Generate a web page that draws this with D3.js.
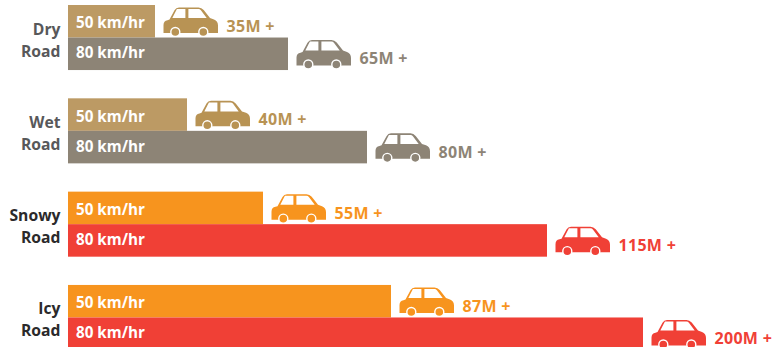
<!DOCTYPE html>
<html>
<head>
<meta charset="utf-8">
<script src="https://cdn.jsdelivr.net/npm/d3@7"></script>
<style>
html,body{margin:0;padding:0;background:#fff;}
svg{display:block;font-family:"Open Sans",sans-serif;font-weight:700;}
</style>
</head>
<body>
<svg id="chart" width="779" height="347"></svg>
<script>
const roads = ["Dry", "Wet", "Snowy", "Icy"];
const speeds = ["50 km/hr", "80 km/hr"];
const distances50 = [35, 40, 55, 87];
const distances80 = [65, 80, 115, 200];
const slowColors = ["#bc9a64", "#bc9a64", "#f7941e", "#f7941e"];
const fastColors = ["#8d8476", "#8d8476", "#f04036", "#f04036"];
const carSlowColors = ["#b89354", "#b89354", "#f7941e", "#f7941e"];
const roadLabelColors = ["#58585a", "#58585a", "#2b2a2b", "#2b2a2b"];

// The bars are illustrative, not proportional: length follows a stepped
// distance scale rather than a single straight one.
const distanceStops = [0, 35, 40, 55, 65, 80, 87, 115, 200];
const lengthStops = [0, 87, 119, 195, 220, 299, 323, 479, 575];

const svg = d3.select("#chart");
const margin = {left: 68, top: 5};
const x = d3.scaleLinear().domain(distanceStops).range(lengthStops.map(d => d + margin.left));
const yRoad = d3.scaleBand().domain(roads).range([margin.top, 350]).paddingInner(0.303).paddingOuter(0);
const ySpeed = d3.scaleBand().domain(speeds).range([0, yRoad.bandwidth()]);

const CAR_BODY = "M0,25.5 L0,17.5 Q0,13.5 4,12.7 L6,12 L11,2.8 Q12.5,0 15.5,0 L35,0 Q38,0 40.2,2.6 L46.5,10.6 L50.5,12 Q54.5,13.4 54.5,18 L54.5,25.5 Z";
const CAR_WINDOWS = "M13.4,1.6 L21.9,1.6 L21.9,10.6 L8.8,10.6 Z M24.9,1.6 L35,1.6 Q36.4,1.6 37.4,2.8 L43.2,10.6 L24.9,10.6 Z";
const wheelX = [11.8, 39.8];

const groups = svg.selectAll("g.road").data(roads).join("g")
  .attr("class", "road")
  .attr("transform", d => `translate(0,${yRoad(d)})`);

groups.each(function (road, i) {
  const g = d3.select(this);
  const rows = [
    {speed: speeds[0], value: distances50[i], color: slowColors[i], car: carSlowColors[i], text: carSlowColors[i], nudge: 7},
    {speed: speeds[1], value: distances80[i], color: fastColors[i], car: fastColors[i], text: fastColors[i], nudge: 4.5}
  ];

  rows.forEach(r => {
    const y0 = ySpeed(r.speed), h = ySpeed.bandwidth(), right = x(r.value);
    g.append("rect").attr("x", x(0)).attr("y", y0).attr("width", right - x(0)).attr("height", h).attr("fill", r.color);
    g.append("text").attr("x", x(0) + 8).attr("y", y0 + h / 2 + r.nudge)
      .attr("font-size", 15.2).attr("fill", "#fff").text(r.speed);

    const car = g.append("g").attr("transform", `translate(${right + 8.5},${y0 + 2.5})`);
    car.append("path").attr("d", CAR_BODY).attr("fill", r.car);
    car.append("path").attr("d", CAR_WINDOWS).attr("fill", "#fff");
    wheelX.forEach(w => car.append("circle")
      .attr("cx", w).attr("cy", 24.5).attr("r", 4.5)
      .attr("fill", r.car).attr("stroke", "#fff").attr("stroke-width", 1.4));

    g.append("text").attr("x", right + 71.5).attr("y", y0 + h / 2 + 10.7)
      .attr("font-size", 16).attr("letter-spacing", 0.3).attr("fill", r.text).text(`${r.value}M +`);
  });

  [road, "Road"].forEach((word, k) => g.append("text")
    .attr("x", 60.5).attr("y", 29.5 + k * 22)
    .attr("text-anchor", "end").attr("font-size", 15.7)
    .attr("fill", roadLabelColors[i]).text(word));
});
</script>
</body>
</html>
